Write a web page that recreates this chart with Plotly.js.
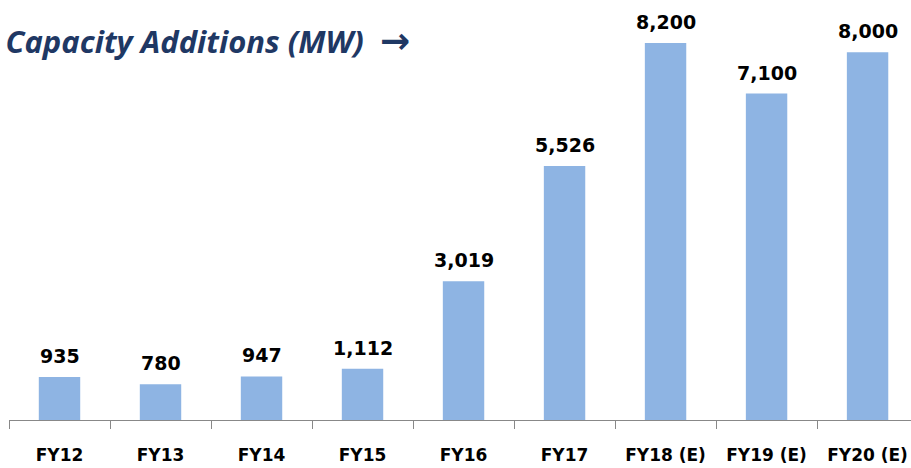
<!DOCTYPE html>
<html><head><meta charset="utf-8">
<script src="https://cdn.plot.ly/plotly-3.0.1.min.js"></script>
<style>html,body{margin:0;padding:0;background:#fff;}#chart{width:911px;height:468px;}</style>
</head><body><div id="chart"></div>
<script>
const categories = ["FY12","FY13","FY14","FY15","FY16","FY17","FY18 (E)","FY19 (E)","FY20 (E)"];
const values = [935, 780, 947, 1112, 3019, 5526, 8200, 7100, 8000];
const valueLabels = ["935","780","947","1,112","3,019","5,526","8,200","7,100","8,000"];
const titleText = "Capacity Additions (MW)";
const titleArrow = "\u2192";

const trace = {
  type: "bar", x: categories, y: values,
  marker: {color: "#8EB4E3"}, width: 0.41,
  hoverinfo: "none"
};
const annotations = categories.map((c, i) => ({
  x: c, y: values[i], xref: "x", yref: "y", text: valueLabels[i],
  showarrow: false, yanchor: "bottom", yshift: 8,
  font: {family: "DejaVu Sans", size: 19, color: "#000", weight: "bold"}
}));
const layout = {
  width: 911, height: 468,
  margin: {l: 9, r: 0, t: 0, b: 48},
  paper_bgcolor: "#fff", plot_bgcolor: "#fff",
  showlegend: false,
  title: {text: "<b><i>" + titleText + "</i></b>  <span style=\"font-family:'DejaVu Sans';font-size:36px\"><b>" + titleArrow + "</b></span>",
    xref: "container", yref: "container",
    x: 0.006, xanchor: "left", y: 0.91, yanchor: "middle",
    font: {family: "Open Sans", size: 31, color: "#1F3864"}},
  xaxis: {type: "category", range: [-0.5, 8.43], showline: true, linecolor: "#888", linewidth: 1,
    ticks: "outside", tickson: "boundaries", ticklen: 8, tickcolor: "#888", tickwidth: 1,
    tickfont: {family: "DejaVu Sans", size: 17, color: "#000", weight: "bold"},
    ticklabelstandoff: 20, showgrid: false, zeroline: false, fixedrange: true},
  yaxis: {range: [0, 9135], visible: false, showgrid: false, zeroline: false, fixedrange: true},
  annotations: annotations
};
Plotly.newPlot("chart", [trace], layout, {staticPlot: true, displayModeBar: false});
</script></body></html>
